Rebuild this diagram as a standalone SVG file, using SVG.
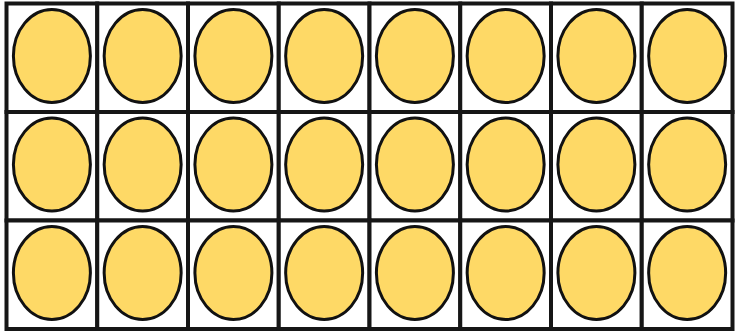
<svg xmlns="http://www.w3.org/2000/svg" width="743" height="332" viewBox="0 0 743 332">
<style>
.cell{fill:#ffffff;stroke:#161616;stroke-width:4}
.dot{fill:#fed966;stroke:#111111;stroke-width:3}
</style>
<rect width="743" height="332" fill="#ffffff"/>
<defs>
<g id="unit">
<rect class="cell" x="0" y="0" width="90.75" height="108.5"/>
<ellipse class="dot" cx="45.4" cy="52.5" rx="38.5" ry="46.5"/>
</g>
</defs>
<g id="r1c1" transform="translate(6.5,3.5)"><use href="#unit"/></g>
<g id="r1c2" transform="translate(97.25,3.5)"><use href="#unit"/></g>
<g id="r1c3" transform="translate(188,3.5)"><use href="#unit"/></g>
<g id="r1c4" transform="translate(278.75,3.5)"><use href="#unit"/></g>
<g id="r1c5" transform="translate(369.5,3.5)"><use href="#unit"/></g>
<g id="r1c6" transform="translate(460.25,3.5)"><use href="#unit"/></g>
<g id="r1c7" transform="translate(551,3.5)"><use href="#unit"/></g>
<g id="r1c8" transform="translate(641.75,3.5)"><use href="#unit"/></g>
<g id="r2c1" transform="translate(6.5,112)"><use href="#unit"/></g>
<g id="r2c2" transform="translate(97.25,112)"><use href="#unit"/></g>
<g id="r2c3" transform="translate(188,112)"><use href="#unit"/></g>
<g id="r2c4" transform="translate(278.75,112)"><use href="#unit"/></g>
<g id="r2c5" transform="translate(369.5,112)"><use href="#unit"/></g>
<g id="r2c6" transform="translate(460.25,112)"><use href="#unit"/></g>
<g id="r2c7" transform="translate(551,112)"><use href="#unit"/></g>
<g id="r2c8" transform="translate(641.75,112)"><use href="#unit"/></g>
<g id="r3c1" transform="translate(6.5,220.5)"><use href="#unit"/></g>
<g id="r3c2" transform="translate(97.25,220.5)"><use href="#unit"/></g>
<g id="r3c3" transform="translate(188,220.5)"><use href="#unit"/></g>
<g id="r3c4" transform="translate(278.75,220.5)"><use href="#unit"/></g>
<g id="r3c5" transform="translate(369.5,220.5)"><use href="#unit"/></g>
<g id="r3c6" transform="translate(460.25,220.5)"><use href="#unit"/></g>
<g id="r3c7" transform="translate(551,220.5)"><use href="#unit"/></g>
<g id="r3c8" transform="translate(641.75,220.5)"><use href="#unit"/></g>
<g id="connectors"/>
</svg>
